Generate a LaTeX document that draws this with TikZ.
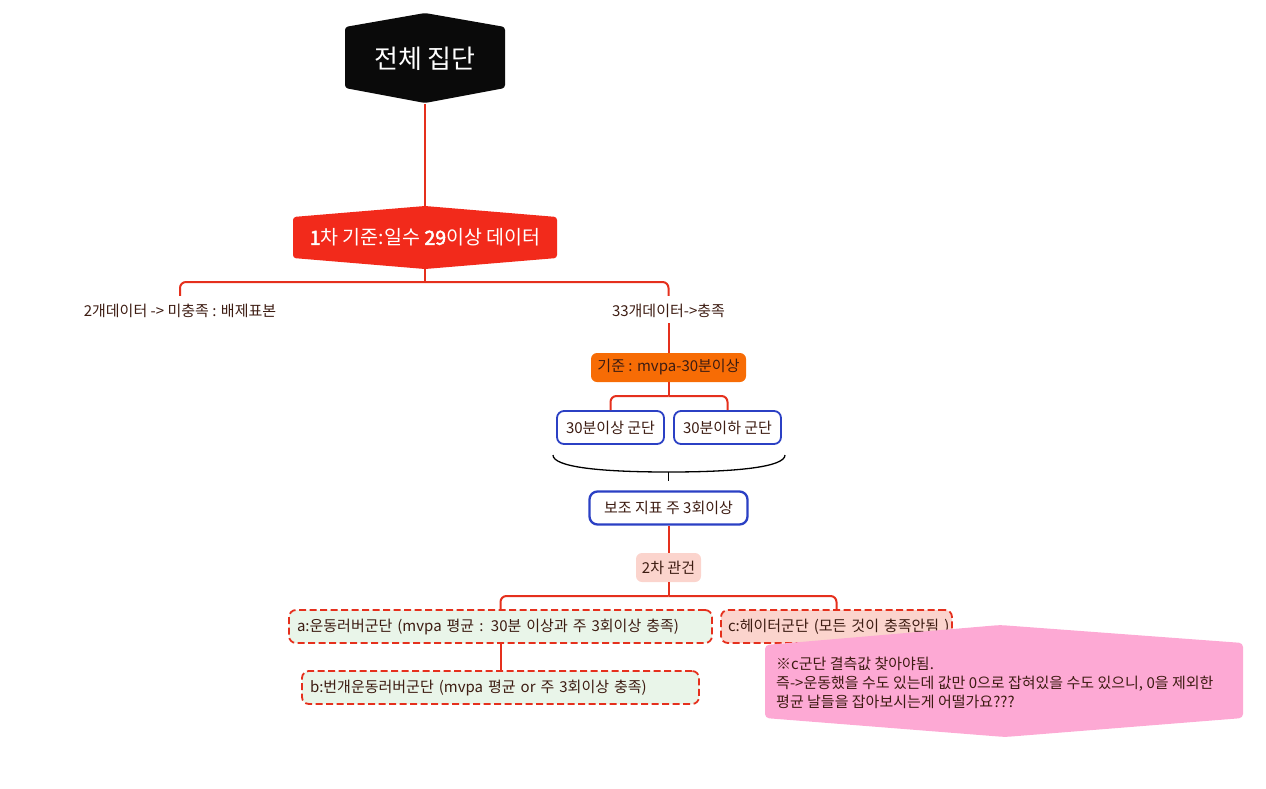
\documentclass[tikz,border=0pt]{standalone}
\usepackage{fontspec}
\setmainfont{Noto Sans CJK KR}[AutoFakeBold=2.5]
\definecolor{lineRed}{HTML}{E5301D}
\definecolor{hexRed}{HTML}{F22A1B}
\definecolor{orangeF}{HTML}{F76C05}
\definecolor{blueB}{HTML}{2B40C4}
\definecolor{calloutPink}{HTML}{FDA9D4}
\definecolor{greenF}{HTML}{E9F5E9}
\definecolor{pinkF}{HTML}{FBD4CD}
\definecolor{txt}{HTML}{3D1C12}
\tikzset{
  conn/.style={draw=lineRed, line width=2pt, rounded corners=6pt},
  lbl/.style={text=txt, font=\fontsize{15}{17}\selectfont, inner sep=0pt, minimum height=32pt},
  bluebox/.style={draw=blueB, line width=1.8pt, fill=white, rounded corners=7pt, text=txt,
    font=\fontsize{15}{17}\selectfont, minimum height=33pt, inner sep=0pt},
  dashbox/.style={draw=lineRed, line width=1.8pt, dash pattern=on 7pt off 3.5pt, rounded corners=7pt,
    text=txt, font=\fontsize{15}{17}\selectfont, minimum height=33pt, inner ysep=0pt, inner xsep=8pt, align=left},
  fillbox/.style={rounded corners=6pt, text=txt, font=\fontsize{15}{17}\selectfont,
    minimum height=29pt, inner sep=0pt},
}
\begin{document}
\begin{tikzpicture}[x=1pt,y=-1pt]
\useasboundingbox (0,0) rectangle (1266,788);
% root
\fill[black!96, rounded corners=3pt] (345,27) -- (425,13) -- (505,27) -- (505,88) -- (425,103) -- (345,88) -- cycle;
\node[text=white, font=\fontsize{26}{28}\selectfont, minimum width=160pt, minimum height=90pt, inner sep=0pt] (root) at (425,59) {전체 집단};
% first criterion
\fill[hexRed, rounded corners=3pt] (293,217) -- (425,206) -- (557,217) -- (557,258) -- (425,269) -- (293,258) -- cycle;
\node[text=white, font=\fontsize{19.5}{22}\selectfont, minimum width=264pt, minimum height=63pt, inner sep=0pt] (c1) at (425,237.5) {\textbf{1}차 기준:일수 \textbf{29}이상 데이터};
\draw[conn] (root.south) -- (c1.north);
% branch labels
\node[lbl] (l1) at (180,311) {2개데이터 -> 미충족 : 배제표본};
\node[lbl] (l2) at (668.5,311) {33개데이터->충족};
\coordinate (j1) at (425,282);
\draw[conn] (c1.south) -- (j1);
\draw[conn] (j1) -| ([yshift=-1pt]l1.north);
\draw[conn] (j1) -| ([yshift=-1pt]l2.north);
% orange
\node[fillbox, fill=orangeF, minimum width=155pt] (o) at (668.5,367.5) {기준 : mvpa-30분이상};
\draw[conn] ([yshift=4pt]l2.south) -- (o.north);
% blue boxes
\node[bluebox, minimum width=107pt] (b1) at (610.5,427.5) {30분이상 군단};
\node[bluebox, minimum width=107pt] (b2) at (727.5,427.5) {30분이하 군단};
\coordinate (j2) at (668.5,396);
\draw[conn] (o.south) -- (j2);
\draw[conn] (j2) -| (b1.north);
\draw[conn] (j2) -| (b2.north);
% brace
\coordinate (brL) at (553,455);
\coordinate (brM) at (668.5,472);
\coordinate (brR) at (785,455);
\coordinate (brT) at (668.5,481);
\draw[black, line width=1.3pt] (brL) .. controls (553,467) and (600,472) .. (brM) .. controls (737,472) and (785,467) .. (brR);
\draw[black, line width=1.8pt] (brM) -- (brT);
% aux
\node[bluebox, line width=2.3pt, rounded corners=8pt, minimum width=158pt] (aux) at (668.5,508) {보조 지표 주 3회이상};
% second key
\node[fillbox, fill=pinkF, minimum width=65pt] (k2) at (668.5,567.5) {2차 관건};
\draw[conn] (aux.south) -- (k2.north);
% a, c, b
\node[dashbox, fill=greenF, text width=407pt] (a) at (500.5,626.5) {\mbox{a:운동러버군단 (mvpa 평균 : 30분 이상과 주 3회이상 충족)}};
\node[dashbox, fill=pinkF, inner xsep=7pt, text width=217pt] (c) at (836.5,626.5) {\mbox{c:헤이터군단 (모든 것이 충족안됨 )}};
\coordinate (j3) at (668.5,596);
\draw[conn] (k2.south) -- (j3);
\draw[conn] (j3) -| (a.north);
\draw[conn] (j3) -| (c.north);
\node[dashbox, fill=greenF, text width=381pt] (b) at (500.5,687.5) {\mbox{b:번개운동러버군단 (mvpa 평균 or 주 3회이상 충족)}};
\draw[conn] (a.south) -- (b.north);
% callout
\fill[calloutPink, rounded corners=4pt] (765,645) -- (1000,625) -- (1243,643) -- (1243,718) -- (1005,737) -- (765,718) -- cycle;
\node[text=txt, font=\fontsize{15}{19}\selectfont, align=left, anchor=north west, inner sep=0pt] (note) at (776,656.5) {※c군단 결측값 찾아야됨.\\즉->운동했을 수도 있는데 값만 0으로 잡혀있을 수도 있으니, 0을 제외한\\평균 날들을 잡아보시는게 어떨가요???};
\end{tikzpicture}
\end{document}
